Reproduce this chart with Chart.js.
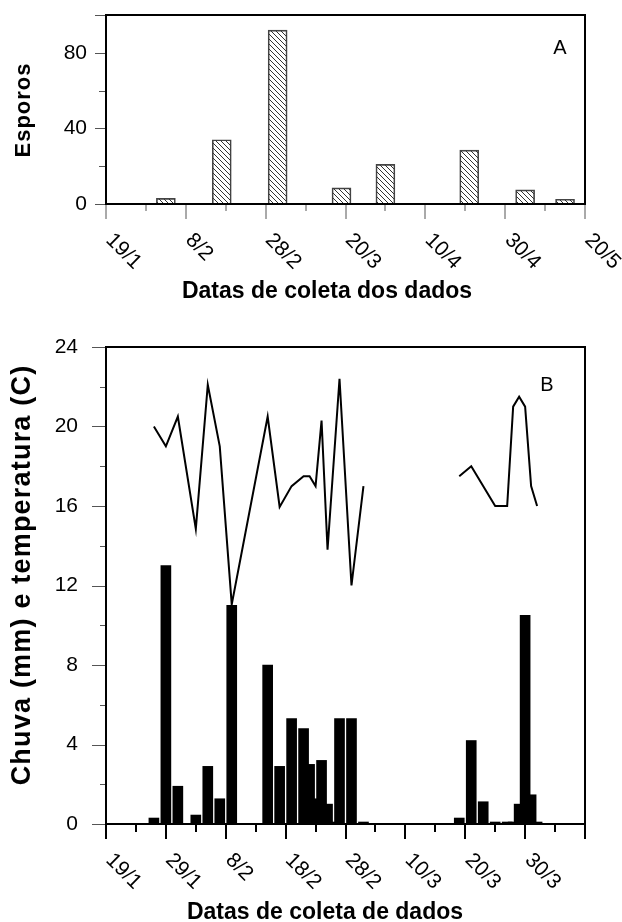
<!DOCTYPE html>
<html>
<head>
<meta charset="utf-8">
<script src="https://cdn.jsdelivr.net/npm/chart.js@4.4.1/dist/chart.umd.min.js"></script>
<style>
  html, body { margin: 0; padding: 0; background: #fff; }
  body { width: 622px; height: 922px; position: relative; overflow: hidden; }
  canvas { position: absolute; left: 0; }
  #chartA { top: 0; }
  #chartB { top: 300px; }
</style>
</head>
<body>
<canvas id="chartA" width="622" height="300"></canvas>
<canvas id="chartB" width="622" height="622"></canvas>
<script>
// Painel A: esporos (dias contados a partir de 19/1)
const sporeDays = [15, 29, 43, 59, 70, 91, 105, 115];
const sporeCounts = [3, 34, 92, 8.5, 21, 28.5, 7.5, 2.5];
const datesA = ['19/1', '8/2', '28/2', '20/3', '10/4', '30/4', '20/5'];
const yLabelsA = [0, 40, 80];

// Painel B: chuva (barras) e temperatura (linha), dias a partir de 19/1
const rainDays = [8, 10, 12, 15, 17, 19, 21, 27, 29, 31, 33, 34, 35, 36, 37, 38, 39, 41, 43,
                  59, 61, 63, 65, 67, 68, 69, 70, 71, 72];
const rainMm = [0.3, 13.0, 1.9, 0.45, 2.9, 1.27, 11.0, 8.0, 2.9, 5.3, 4.8, 3.0, 1.27, 3.2, 1.0, 0.1, 5.3, 5.3, 0.1,
                0.3, 4.2, 1.12, 0.1, 0.1, 0.1, 1.0, 10.5, 1.47, 0.1];
const tempDays = [8, 10, 12, 15, 17, 19, 21, 27, 29, 31, 33, 34, 35, 36, 37, 39, 41, 43, 50,
                  59, 61, 65, 67, 68, 69, 70, 71, 72];
const tempC = [20, 19, 20.5, 14.85, 22.1, 19, 11.05, 20.5, 15.95, 17, 17.5, 17.5, 17, 20.3, 13.8, 22.4, 12, 17, null,
               17.5, 18, 16, 16, 21, 21.5, 21, 17, 16];
const datesB = ['19/1', '29/1', '8/2', '18/2', '28/2', '10/3', '20/3', '30/3'];
const yLabelsB = [0, 4, 8, 12, 16, 20, 24];

const FONT = '"Liberation Sans", Arial, sans-serif';

function hatch() {
    const p = document.createElement('canvas');
    p.width = 5;
    p.height = 5;
    const c = p.getContext('2d');
    c.strokeStyle = '#333';
    c.lineWidth = 1;
    c.beginPath();
    c.moveTo(0, 0); c.lineTo(5, 5);
    c.moveTo(-1, 4); c.lineTo(1, 6);
    c.moveTo(4, -1); c.lineTo(6, 1);
    c.stroke();
    return document.getElementById('chartA').getContext('2d').createPattern(p, 'repeat');
}

// caixa, marcas maiores/menores, rótulos inclinados e títulos
function decor(cfg) {
    return {
        id: 'decor',
        afterDraw(chart) {
            const { ctx, chartArea: a, scales: { x, y } } = chart;
            ctx.save();

            ctx.strokeStyle = cfg.yTickColor;
            ctx.lineWidth = 1;
            for (let v = y.min; v <= y.max + 1e-9; v += cfg.yMinor) {
                const py = Math.round(y.getPixelForValue(v)) + 0.5;
                const major = v % cfg.yMajor === 0 || v === y.max;
                ctx.beginPath();
                ctx.moveTo(a.left, py);
                ctx.lineTo(a.left - (major ? cfg.yMajorLen : cfg.yMinorLen), py);
                ctx.stroke();
            }

            ctx.strokeStyle = cfg.xTickColor;
            ctx.lineWidth = cfg.xTickWidth;
            for (let v = x.min; v <= x.max + 1e-9; v += cfg.xMinor) {
                const px = Math.round(x.getPixelForValue(v));
                const major = v % cfg.xMajor === 0;
                ctx.beginPath();
                ctx.moveTo(px, a.bottom);
                ctx.lineTo(px, a.bottom + (major ? cfg.xMajorLen : cfg.xMinorLen));
                ctx.stroke();
            }

            ctx.strokeStyle = '#000';
            ctx.lineWidth = 2;
            ctx.strokeRect(a.left, a.top, a.right - a.left, a.bottom - a.top);

            ctx.fillStyle = '#000';
            ctx.font = '21px ' + FONT;
            ctx.textAlign = 'left';
            ctx.textBaseline = 'middle';
            cfg.dates.forEach((d, i) => {
                ctx.save();
                ctx.translate(x.getPixelForValue(i * cfg.xMajor) + 3, a.bottom + 33);
                ctx.rotate(Math.PI / 4);
                ctx.fillText(d, 0, 0);
                ctx.restore();
            });

            ctx.textAlign = 'center';
            ctx.font = 'bold ' + cfg.xTitleSize + 'px ' + FONT;
            ctx.fillText(cfg.xTitle, cfg.xTitlePos[0], cfg.xTitlePos[1]);

            ctx.save();
            ctx.font = 'bold ' + cfg.yTitleSize + 'px ' + FONT;
            ctx.letterSpacing = cfg.yTitleSpacing;
            ctx.translate(cfg.yTitlePos[0], cfg.yTitlePos[1]);
            ctx.rotate(-Math.PI / 2);
            ctx.fillText(cfg.yTitle, 0, 0);
            ctx.restore();

            ctx.font = '20px ' + FONT;
            ctx.fillText(cfg.letter, cfg.letterPos[0], cfg.letterPos[1]);
            ctx.restore();
        }
    };
}

const common = {
    responsive: false,
    animation: false,
    plugins: { legend: { display: false }, tooltip: { enabled: false } },
};

function fitY(s) {
    s.width = 106;
    s.paddingTop = 0;
    s.paddingBottom = 0;
}

new Chart(document.getElementById('chartA'), {
    type: 'bar',
    data: {
        datasets: [{
            data: sporeDays.map((d, i) => ({ x: d, y: sporeCounts[i] })),
            backgroundColor: hatch(),
            borderColor: '#444',
            borderWidth: 1,
            barThickness: 19,
        }],
    },
    options: {
        ...common,
        layout: { padding: { left: 0, right: 37, top: 15, bottom: 0 } },
        scales: {
            x: {
                type: 'linear', min: 0, max: 120, offset: false,
                ticks: { display: false },
                grid: { display: false, drawTicks: false, offset: false },
                border: { display: false },
                afterFit(s) { s.height = 96; },
            },
            y: {
                min: 0, max: 100,
                ticks: {
                    stepSize: 20, padding: 19, color: '#000',
                    font: { size: 21, family: FONT },
                    callback: (v) => (yLabelsA.includes(v) ? v : ''),
                },
                grid: { display: false, drawTicks: false },
                border: { display: false },
                afterFit: fitY,
            },
        },
    },
    plugins: [decor({
        yMinor: 20, yMajor: 40, yMajorLen: 11, yMinorLen: 7, yTickColor: '#555',
        xMinor: 10, xMajor: 20, xMajorLen: 15, xMinorLen: 7, xTickColor: '#555', xTickWidth: 1,
        dates: datesA,
        xTitle: 'Datas de coleta dos dados', xTitleSize: 23, xTitlePos: [327, 292],
        yTitle: 'Esporos', yTitleSize: 22, yTitleSpacing: '1px', yTitlePos: [24, 110],
        letter: 'A', letterPos: [560, 48],
    })],
});

new Chart(document.getElementById('chartB'), {
    type: 'bar',
    data: {
        datasets: [{
            type: 'line',
            data: tempDays.map((d, i) => ({ x: d, y: tempC[i] })),
            borderColor: '#000',
            borderWidth: 2,
            pointRadius: 0,
            tension: 0,
            spanGaps: false,
        }, {
            type: 'bar',
            data: rainDays.map((d, i) => ({ x: d, y: rainMm[i] })),
            backgroundColor: '#000',
            borderWidth: 0,
            barThickness: 10,
        }],
    },
    options: {
        ...common,
        layout: { padding: { left: 0, right: 37, top: 47, bottom: 0 } },
        scales: {
            x: {
                type: 'linear', min: 0, max: 80, offset: false,
                ticks: { display: false },
                grid: { display: false, drawTicks: false, offset: false },
                border: { display: false },
                afterFit(s) { s.height = 98; },
            },
            y: {
                min: 0, max: 24,
                ticks: {
                    stepSize: 2, padding: 28, color: '#000',
                    font: { size: 21, family: FONT },
                    callback: (v) => (yLabelsB.includes(v) ? v : ''),
                },
                grid: { display: false, drawTicks: false },
                border: { display: false },
                afterFit: fitY,
            },
        },
    },
    plugins: [decor({
        yMinor: 2, yMajor: 4, yMajorLen: 14, yMinorLen: 6, yTickColor: '#555',
        xMinor: 5, xMajor: 10, xMajorLen: 15, xMinorLen: 8, xTickColor: '#000', xTickWidth: 2,
        dates: datesB,
        xTitle: 'Datas de coleta de dados', xTitleSize: 23, xTitlePos: [325, 613],
        yTitle: 'Chuva (mm) e temperatura (C)', yTitleSize: 27, yTitleSpacing: '1.2px', yTitlePos: [23, 275],
        letter: 'B', letterPos: [547, 85],
    })],
});
</script>
</body>
</html>
